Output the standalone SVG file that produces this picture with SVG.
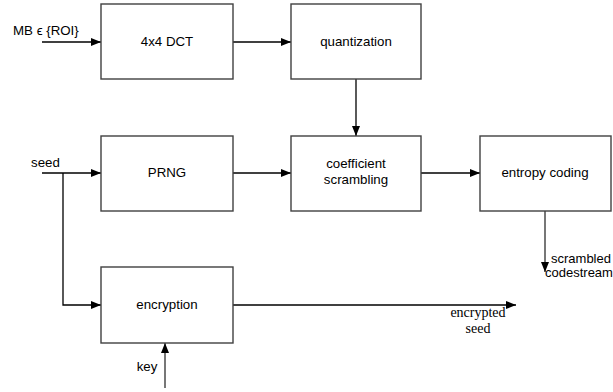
<svg xmlns="http://www.w3.org/2000/svg" width="613" height="392" viewBox="0 0 613 392">
<defs>
<marker id="ah" viewBox="0 0 10 8" refX="10" refY="4" markerWidth="10" markerHeight="8" markerUnits="userSpaceOnUse" orient="auto">
<path d="M0,0 L10,4 L0,8 Z" fill="#000"/>
</marker>
</defs>
<style>
.box{fill:#fff;stroke:#404040;stroke-width:1.4}
.lbl{font-family:"Liberation Sans",Arial,sans-serif;font-size:13.3px;fill:#000}
.sm{font-size:13px}
.ser{font-family:"Liberation Serif","Times New Roman",serif;font-size:14px;fill:#000}
.c{stroke:#000;stroke-width:1.3;fill:none}
.g{stroke:#555;stroke-width:1.6;fill:none}
</style>
<rect width="613" height="392" fill="#fff"/>
<g id="connectors">
<line class="c" x1="42" y1="42" x2="101" y2="42" marker-end="url(#ah)"/>
<line class="c" x1="233" y1="42" x2="291" y2="42" marker-end="url(#ah)"/>
<line class="c" x1="356" y1="79" x2="356" y2="136" marker-end="url(#ah)"/>
<line class="c" x1="42" y1="173" x2="101" y2="173" marker-end="url(#ah)"/>
<polyline class="c" points="63,173 63,305 101,305" marker-end="url(#ah)"/>
<line class="c" x1="233" y1="173" x2="291" y2="173" marker-end="url(#ah)"/>
<line class="c" x1="421" y1="173" x2="480" y2="173" marker-end="url(#ah)"/>
<line class="g" x1="545" y1="211" x2="545" y2="272" marker-end="url(#ah)"/>
<line class="c" x1="233" y1="305" x2="516" y2="305" marker-end="url(#ah)"/>
<line class="g" x1="165" y1="388" x2="165" y2="343" marker-end="url(#ah)"/>
<text class="lbl" x="13" y="35">MB ϵ {ROI}</text>
<text class="lbl" x="31" y="167">seed</text>
<text class="lbl sm" x="551" y="263">scrambled</text>
<text class="lbl sm" x="545" y="277">codestream</text>
<text class="ser" x="478" y="317" text-anchor="middle">encrypted</text>
<text class="ser" x="478" y="333" text-anchor="middle">seed</text>
<text class="lbl" x="147" y="371" text-anchor="middle">key</text>
</g>
<g id="dct">
<rect class="box" x="101" y="4" width="132" height="75"/>
<text class="lbl" x="167" y="46" text-anchor="middle">4x4 DCT</text>
</g>
<g id="quantization">
<rect class="box" x="291" y="4" width="130" height="75"/>
<text class="lbl" x="356" y="46" text-anchor="middle">quantization</text>
</g>
<g id="prng">
<rect class="box" x="101" y="136" width="132" height="75"/>
<text class="lbl" x="167" y="177" text-anchor="middle">PRNG</text>
</g>
<g id="scrambling">
<rect class="box" x="291" y="136" width="130" height="75"/>
<text class="lbl" x="356" y="168" text-anchor="middle">coefficient</text>
<text class="lbl" x="356" y="184" text-anchor="middle">scrambling</text>
</g>
<g id="entropy">
<rect class="box" x="480" y="136" width="131" height="75"/>
<text class="lbl" x="545" y="177" text-anchor="middle">entropy coding</text>
</g>
<g id="encryption">
<rect class="box" x="101" y="267" width="132" height="76"/>
<text class="lbl" x="167" y="309" text-anchor="middle">encryption</text>
</g>
</svg>
